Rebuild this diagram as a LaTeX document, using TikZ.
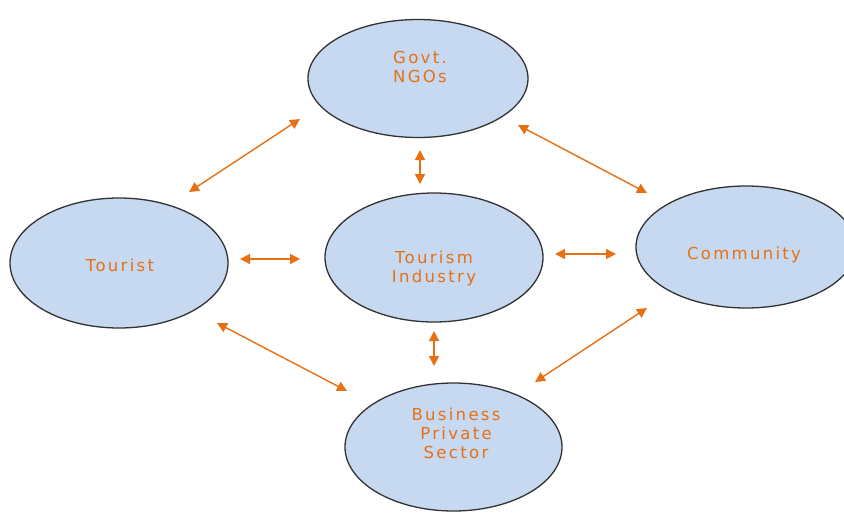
\documentclass[tikz,border=0pt]{standalone}
\usepackage{fontspec}
\setmainfont{DejaVu Sans}[LetterSpace=14]
\usetikzlibrary{shapes.geometric,arrows.meta}
\definecolor{ellfill}{RGB}{198,217,240}
\definecolor{ellline}{RGB}{50,50,50}
\definecolor{orng}{RGB}{230,112,20}
\tikzset{
  bubble/.style={ellipse,draw=ellline,line width=1.3pt,fill=ellfill,inner sep=0pt},
  lbl/.style={text=orng,align=center,inner sep=0pt,anchor=north,
    font=\fontsize{16.5}{19}\selectfont},
  link/.style={draw=orng,line width=1.4pt,{Triangle[length=10pt,width=10pt]}-{Triangle[length=10pt,width=10pt]}}
}
\begin{document}
\begin{tikzpicture}[x=1pt,y=-1pt]
\useasboundingbox (0,0) rectangle (844,512);
\clip (0,0) rectangle (844,512);
% ellipses
\node[bubble,minimum width=220pt,minimum height=118pt] (govt) at (418,78.5) {};
\node[bubble,minimum width=218pt,minimum height=130pt] (tourist) at (119,263) {};
\node[bubble,minimum width=218pt,minimum height=129pt] (industry) at (434,257.5) {};
\node[bubble,minimum width=220pt,minimum height=122pt] (community) at (746,247) {};
\node[bubble,minimum width=217pt,minimum height=128pt] (business) at (453.5,447) {};
% labels
\node[lbl] (govt-t) at (420,51) {Govt.\\NGOs};
\node[lbl] (tourist-t) at (120,259) {Tourist};
\node[lbl] (industry-t) at (434,251) {Tourism\\Industry};
\node[lbl] (community-t) at (744,247) {Community};
\node[lbl] (business-t) at (456,408) {Business\\Private\\Sector};
% connector ends
\coordinate (gt1) at (300,119); \coordinate (gt2) at (189,192);
\coordinate (gc1) at (518,125); \coordinate (gc2) at (647,193);
\coordinate (gi1) at (420,150); \coordinate (gi2) at (420,184);
\coordinate (ti1) at (240,259); \coordinate (ti2) at (300,259);
\coordinate (ic1) at (555,254); \coordinate (ic2) at (616,254);
\coordinate (ib1) at (434,331); \coordinate (ib2) at (434,366);
\coordinate (tb1) at (217,323); \coordinate (tb2) at (347,391);
\coordinate (cb1) at (647,308); \coordinate (cb2) at (535,382);
% connectors
\draw[link] (gt1) -- (gt2);
\draw[link] (gc1) -- (gc2);
\draw[link] (gi1) -- (gi2);
\draw[link] (ti1) -- (ti2);
\draw[link] (ic1) -- (ic2);
\draw[link] (ib1) -- (ib2);
\draw[link] (tb1) -- (tb2);
\draw[link] (cb1) -- (cb2);
\end{tikzpicture}
\end{document}
